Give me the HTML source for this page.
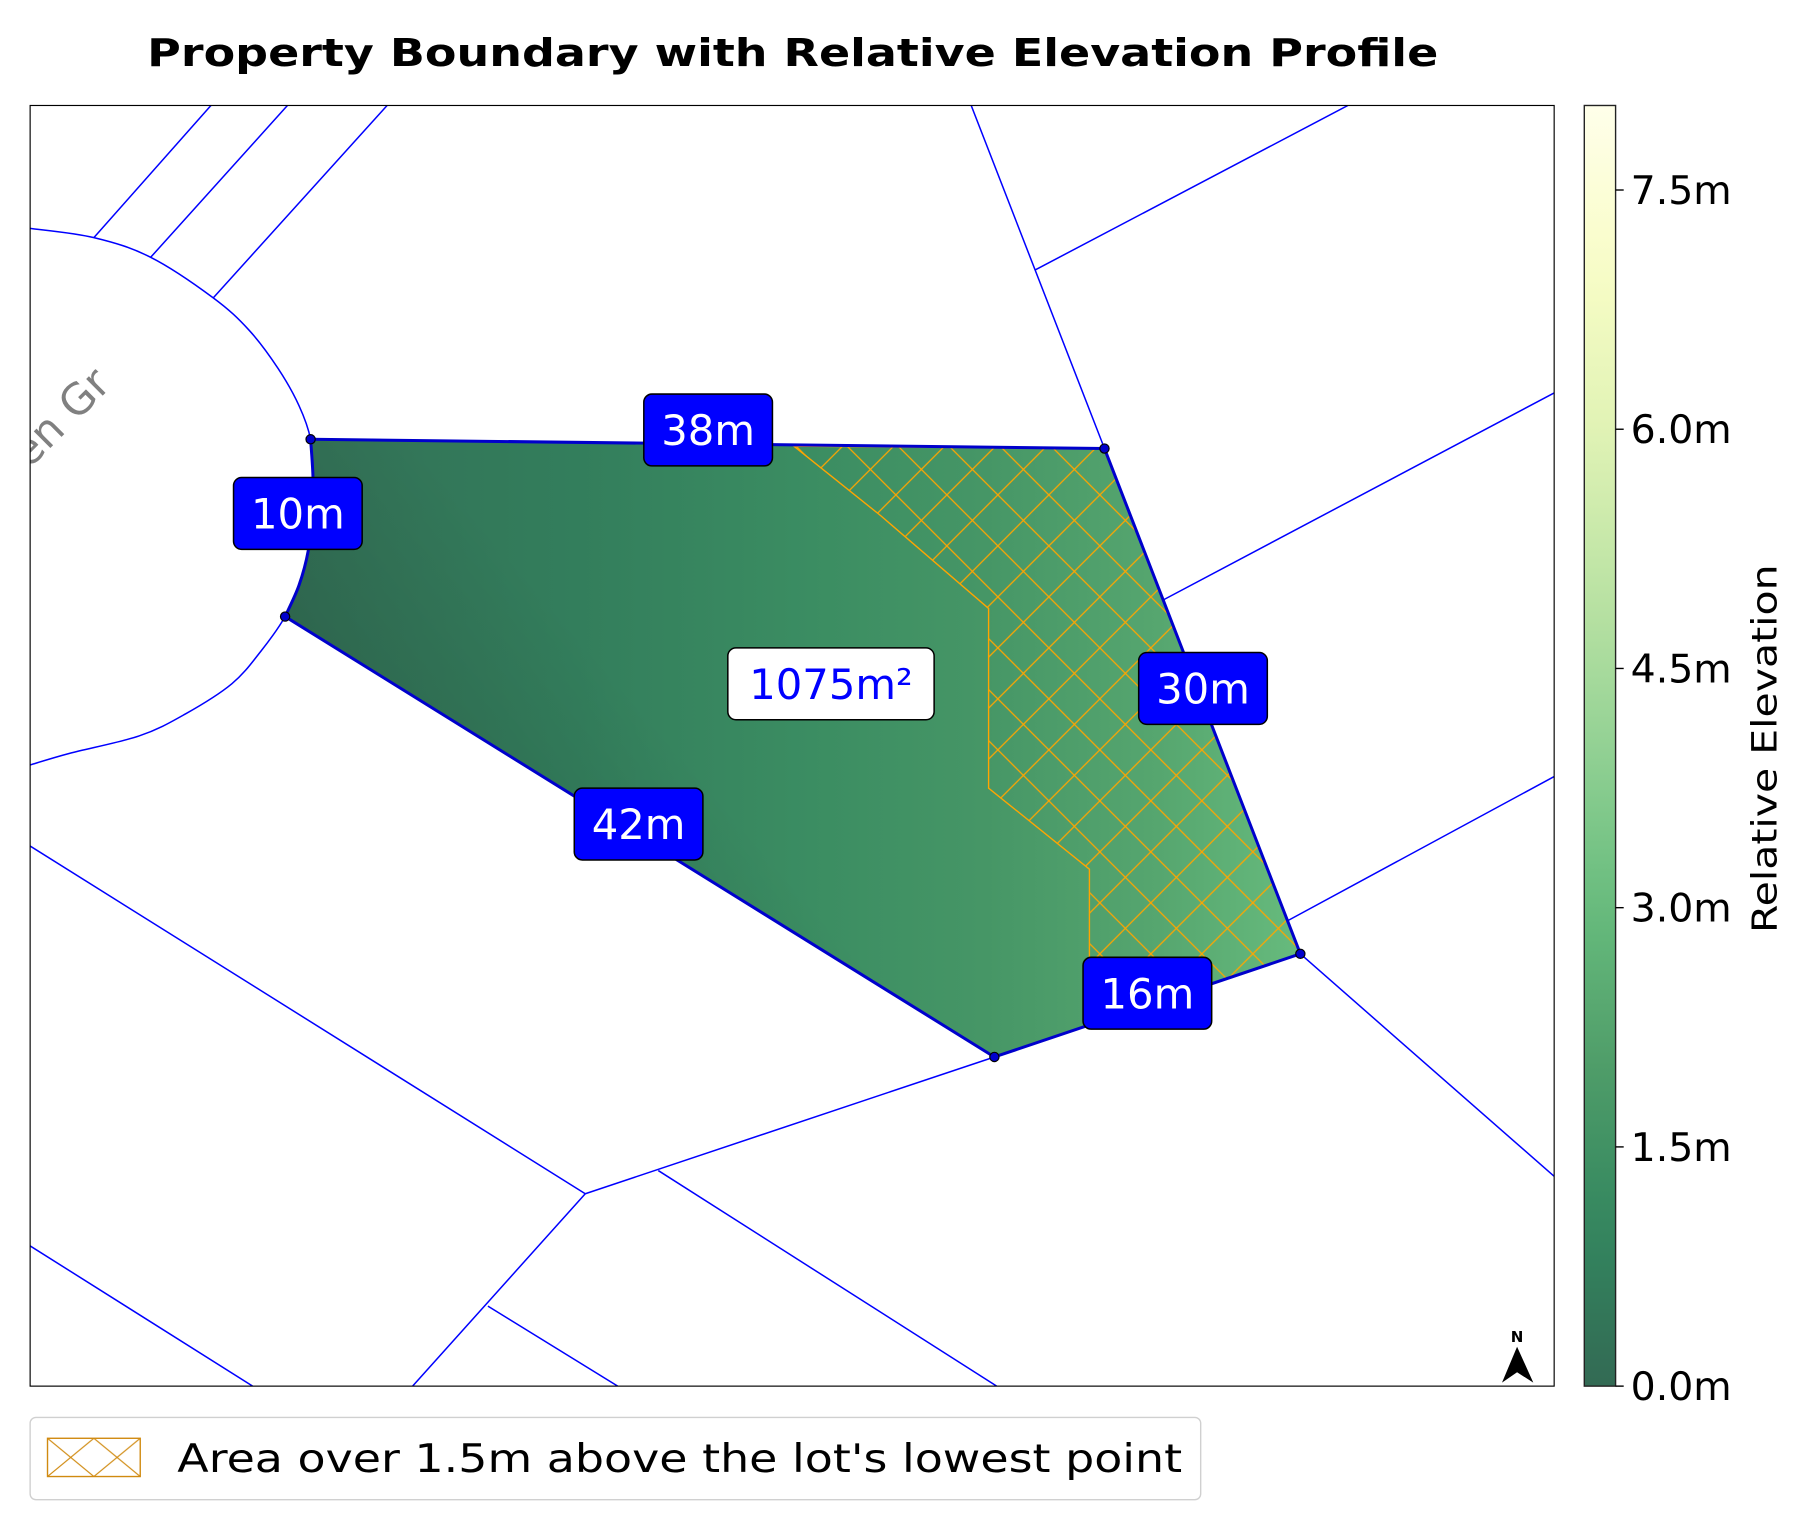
<!DOCTYPE html>
<html><head><meta charset="utf-8"><style>
html,body{margin:0;padding:0;background:#fff}
svg{display:block}
text{font-family:"DejaVu Sans","Liberation Sans",sans-serif}
</style></head><body>
<svg id="chart" width="1814" height="1528" viewBox="0 0 1565.2 1318.4" xmlns="http://www.w3.org/2000/svg">
<defs>
<clipPath id="axclip"><rect x="26" y="91" width="1315" height="1105"/></clipPath>
<pattern id="hatch" patternUnits="userSpaceOnUse" width="44" height="44" x="685" y="383">
<path d="M0,0L44,44M44,0L0,44" stroke="#ffa500" stroke-width="1.1"/>
</pattern>
<pattern id="hatchLeg" patternUnits="userSpaceOnUse" width="40" height="33" x="41" y="1241">
<path d="M0,0L40,33M40,0L0,33" stroke="#d08a10" stroke-width="1"/>
</pattern>
<linearGradient id="elevGrad" gradientUnits="userSpaceOnUse" x1="245" y1="0" x2="1122" y2="0"></linearGradient>
<linearGradient id="cbGrad" x1="0" y1="1" x2="0" y2="0"></linearGradient>
<linearGradient id="shade" gradientUnits="userSpaceOnUse" x1="246" y1="600" x2="420" y2="450">
<stop offset="0" stop-color="#000" stop-opacity="0.12"/><stop offset="1" stop-color="#000" stop-opacity="0"/>
</linearGradient>
</defs>
<text x="684" y="57" text-anchor="middle" font-weight="bold" font-size="33" textLength="1114" lengthAdjust="spacingAndGlyphs">Property Boundary with Relative Elevation Profile</text>
<g id="axes" clip-path="url(#axclip)"></g>
<rect x="26" y="91" width="1315" height="1105" fill="none" stroke="#000" stroke-width="1"/>
<g id="cbar"></g>
<g id="legend">
<rect x="26" y="1223" width="1010" height="71" rx="5" fill="#fff" stroke="#d0d0d0" stroke-width="1.2"/>
<rect x="41" y="1241" width="80" height="33" fill="url(#hatchLeg)" stroke="#d08a10" stroke-width="1.2"/>
<text x="153" y="1270" font-size="34" textLength="867" lengthAdjust="spacingAndGlyphs">Area over 1.5m above the lot's lowest point</text>
</g>
</svg>
<script>
const NS='http://www.w3.org/2000/svg';
// ---- data ----
const parcelVertices=[[268,379],[953,387],[1122,823],[858,912],[246,532]];
const leftArc=[[246,532],[258,505],[266,475],[270,440],[270,410],[268,379]];
const hatchRegion=[[685,385],[953,387],[1122,823],[940,884],[940,750],[853,680],[853,525],[760,445]];
const gradPositions=[245,500,700,850,1000,1122];
const gradElevations=[0.2,0.7,1.3,1.7,2.3,3.0];
const cbTicks=[0,1.5,3.0,4.5,6.0,7.5];
const cbTickLabels=['0.0m','1.5m','3.0m','4.5m','6.0m','7.5m'];
const elevMax=8.03;
const edgeLabels=['38m','10m','30m','42m','16m'];
const edgeLabelPos=[[611,371],[257,443],[1038,594],[551,711],[990,857]];
const areaLabel='1075m²';
const areaLabelPos=[717,590];
const culDeSac=[[26,197],[81,205],[130,222],[184,257],[215,285],[240,318],[258,350],[268,379],[270,410],[270,440],[266,475],[258,505],[246,532],[225,562],[200,590],[160,616],[120,635],[60,650],[26,660]];
const neighbourLines=[
[[81,205],[182,91]],[[130,222],[248,91]],[[184,257],[334,91]],
[[838,91],[953,387]],[[893,233],[1163,91]],[[1003,518],[1341,339]],
[[1110,795],[1341,670]],[[1122,823],[1341,1015]],[[858,912],[505,1030]],
[[26,730],[505,1030]],[[505,1030],[356,1196]],[[568,1010],[860,1196]],
[[421,1127],[533,1196]],[[26,1075],[218,1196]]];
// ---- colormap (YlGn reversed, alpha .8) ----
const ylgn=['#ffffe5','#f7fcb9','#d9f0a3','#addd8e','#78c679','#41ab5d','#238443','#006837','#004529'];
function hex(h){return [1,3,5].map(i=>parseInt(h.substr(i,2),16));}
function cmap(v){
  let t=1-Math.max(0,Math.min(1,v/elevMax));
  let f=t*8,i=Math.min(7,Math.floor(f)),r=f-i;
  let a=hex(ylgn[i]),b=hex(ylgn[i+1]);
  let c=a.map((x,k)=>Math.round((x+(b[k]-x)*r)*0.8+255*0.2));
  return 'rgb('+c.join(',')+')';
}
const cbTop=91,cbBot=1196,cbX=1367,cbW=27;
function cbY(v){return cbBot-(v/elevMax)*(cbBot-cbTop);}
function el(tag,attrs,parent){const e=document.createElementNS(NS,tag);for(const k in attrs)e.setAttribute(k,attrs[k]);parent.appendChild(e);return e;}
const pts=a=>a.map(p=>p.join(',')).join(' ');
function smooth(p){
  let d='M'+p[0].join(',');
  for(let i=0;i<p.length-1;i++){
    const p0=p[Math.max(0,i-1)],p1=p[i],p2=p[i+1],p3=p[Math.min(p.length-1,i+2)];
    const c1=[p1[0]+(p2[0]-p0[0])/6,p1[1]+(p2[1]-p0[1])/6];
    const c2=[p2[0]-(p3[0]-p1[0])/6,p2[1]-(p3[1]-p1[1])/6];
    d+='C'+c1.join(',')+' '+c2.join(',')+' '+p2.join(',');
  }
  return d;
}
const eg=document.getElementById('elevGrad');
gradPositions.forEach((x,i)=>{el('stop',{offset:((x-245)/(1122-245)).toFixed(3),'stop-color':cmap(gradElevations[i])},eg);});
const cg=document.getElementById('cbGrad');
for(let i=0;i<=20;i++){el('stop',{offset:i/20,'stop-color':cmap(elevMax*i/20)},cg);}
const ax=document.getElementById('axes');
neighbourLines.forEach(l=>{
  const ln=el('line',{x1:l[0][0],y1:l[0][1],x2:l[1][0],y2:l[1][1],stroke:'#0000ff','stroke-width':1.3},ax);
  
  
});
const cds=el('path',{d:smooth(culDeSac),fill:'none',stroke:'#0000ff','stroke-width':1.3},ax);


const st=el('text',{x:97,y:333,'text-anchor':'end','font-size':37,fill:'#808080',transform:'rotate(-45 97 333)'},ax);
st.textContent='Glen Gr';


// parcel path: straight edges plus smooth left arc
const arcD=smooth(leftArc).replace(/^M[^C]*/,'');
const parcelD='M'+parcelVertices[0].join(',')+'L'+parcelVertices.slice(1).map(p=>p.join(',')).join('L')+arcD+'Z';
const parcel=el('path',{d:parcelD,fill:'url(#elevGrad)',stroke:'none'},ax);


el('path',{d:parcelD,fill:'url(#shade)',stroke:'none'},ax);
const hr=el('polygon',{points:pts(hatchRegion),fill:'url(#hatch)',stroke:'#ffa500','stroke-width':1.2},ax);


const outline=el('path',{d:parcelD,fill:'none',stroke:'#0000cc','stroke-width':2.6,'stroke-linejoin':'round'},ax);


parcelVertices.forEach(v=>{
  const c=el('circle',{cx:v[0],cy:v[1],r:4,fill:'#0000cc',stroke:'#000','stroke-width':1},ax);
  
  
});
function label(txt,p,bg,fg,w,name){
  const g=el('g',{},ax);
  
  
  el('rect',{x:p[0]-w/2,y:p[1]-31,width:w,height:62,rx:7,fill:bg,stroke:'#000','stroke-width':1.3},g);
  const t=el('text',{x:p[0],y:p[1]+13,'text-anchor':'middle','font-size':36,fill:fg},g);
  t.textContent=txt;
}
edgeLabels.forEach((t,i)=>label(t,edgeLabelPos[i],'#0000ff','#fff',111,'edge-length-label'));
label(areaLabel,areaLabelPos,'#fff','#0000ff',178,'area-label');
const na=el('g',{},ax);


el('polygon',{points:'1309,1162 1323,1193 1309,1184 1296,1193',fill:'#000'},na);
const nt=el('text',{x:1309,y:1158,'text-anchor':'middle','font-size':13,'font-weight':'bold'},na);
nt.textContent='N';
const cb=document.getElementById('cbar');
const cbr=el('rect',{x:cbX,y:cbTop,width:cbW,height:cbBot-cbTop,fill:'url(#cbGrad)',stroke:'#222','stroke-width':1.2},cb);


cbTicks.forEach((v,i)=>{
  const y=cbY(v);
  const tk=el('line',{x1:cbX+cbW,x2:cbX+cbW+7,y1:y,y2:y,stroke:'#000','stroke-width':1.2},cb);
  
  
  const t=el('text',{x:1407,y:y+12,'font-size':34},cb);
  t.textContent=cbTickLabels[i];
  
  
});
const ct=el('text',{x:1533,y:646,'text-anchor':'middle','font-size':30,transform:'rotate(-90 1533 646)',textLength:318,lengthAdjust:'spacingAndGlyphs'},cb);
ct.textContent='Relative Elevation';


</script>
</body></html>
